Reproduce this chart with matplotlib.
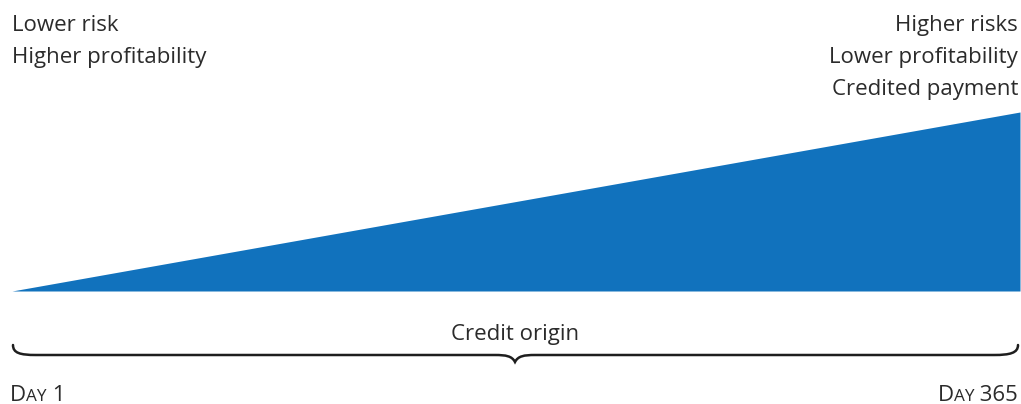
import matplotlib.pyplot as plt
from matplotlib.path import Path
from matplotlib.patches import PathPatch

# data
days = [1, 365]
risk_level = [0.0, 1.0]
left_labels = ['Lower risk', 'Higher profitability']
right_labels = ['Higher risks', 'Lower profitability', 'Credited payment']
span_label = 'Credit origin'
start_day = ('D', 'AY', ' 1')
end_day = ('D', 'AY', ' 365')

blue = '#1172bd'
txt = '#2b2b2b'
W, H = 1021, 404
plt.rcParams['font.family'] = ['Open Sans', 'DejaVu Sans']

fig = plt.figure(figsize=(W / 100, H / 100), dpi=100)

# triangle axes, placed in pixels
x0, x1, ytop, ybot = 12, 1020, 112, 291
ax = fig.add_axes([x0 / W, 1 - ybot / H, (x1 - x0) / W, (ybot - ytop) / H])
ax.fill_between(days, 0, risk_level, color=blue, linewidth=0)
ax.set_xlim(days[0], days[-1])
ax.set_ylim(0, max(risk_level))
ax.axis('off')

# overlay axes in pixel coords for text and brace
pa = fig.add_axes([0, 0, 1, 1])
pa.set_xlim(0, W)
pa.set_ylim(H, 0)
pa.axis('off')

fs = 16
for i, s in enumerate(left_labels):
    pa.text(12, 31 + i * 32, s, fontsize=fs, color=txt, ha='left', va='baseline')
for i, s in enumerate(right_labels):
    pa.text(1018, 31 + i * 32, s, fontsize=fs, color=txt, ha='right', va='baseline')
pa.text(515, 340, span_label, fontsize=fs, color=txt, ha='center', va='baseline')

verts = [(13, 345), (13, 353), (20, 355), (36, 355),
         (495, 355), (506, 355), (512, 356), (515, 362),
         (518, 356), (524, 355), (535, 355),
         (994, 355), (1010, 355), (1018, 353), (1018, 345)]
codes = [Path.MOVETO, Path.CURVE4, Path.CURVE4, Path.CURVE4,
         Path.LINETO, Path.CURVE4, Path.CURVE4, Path.CURVE4,
         Path.CURVE4, Path.CURVE4, Path.CURVE4,
         Path.LINETO, Path.CURVE4, Path.CURVE4, Path.CURVE4]
pa.add_patch(PathPatch(Path(verts, codes), fill=False, edgecolor='#1e1e1e', lw=1.8,
                       capstyle='round'))

# small caps labels, pieces placed side by side
fig.canvas.draw()
r = fig.canvas.get_renderer()
sizes = [16, 12.3, 16]


def small_caps(parts, x, y, align):
    ts = [pa.text(0, y, p, fontsize=sz, color=txt, va='baseline') for p, sz in zip(parts, sizes)]
    ws = [t.get_window_extent(r).width for t in ts]
    cx = x if align == 'left' else x - sum(ws)
    for t, w in zip(ts, ws):
        t.set_x(cx)
        cx += w


small_caps(start_day, 10, 401, 'left')
small_caps(end_day, 1018, 401, 'right')

fig.savefig('out.png', dpi=100, facecolor='white')
